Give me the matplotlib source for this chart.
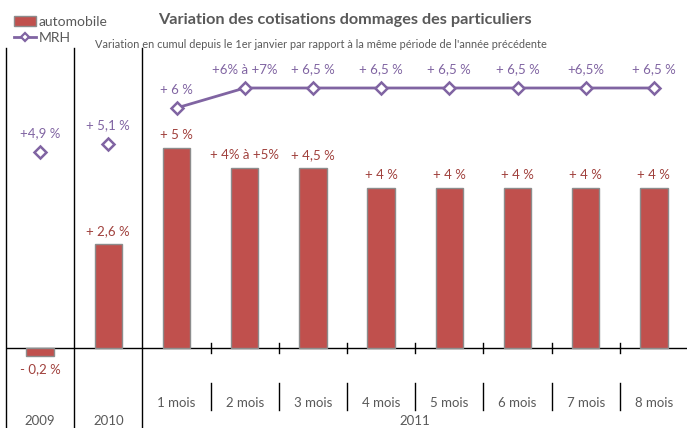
import numpy as np
import matplotlib.pyplot as plt
from matplotlib.patches import Patch
from matplotlib.lines import Line2D

plt.rcParams['font.family'] = ['Lato', 'DejaVu Sans']

# data
categories = ['', '', '1 mois', '2 mois', '3 mois', '4 mois', '5 mois', '6 mois', '7 mois', '8 mois']
years = ['2009', '2010', '2011']
auto = [-0.2, 2.6, 5, 4.5, 4.5, 4, 4, 4, 4, 4]
auto_labels = ['- 0,2 %', '+ 2,6 %', '+ 5 %', '+ 4% à +5%', '+ 4,5 %', '+ 4 %', '+ 4 %', '+ 4 %', '+ 4 %', '+ 4 %']
mrh = [4.9, 5.1, 6, 6.5, 6.5, 6.5, 6.5, 6.5, 6.5, 6.5]
mrh_labels = ['+4,9 %', '+ 5,1 %', '+ 6 %', '+6% à +7%', '+ 6,5 %', '+ 6,5 %', '+ 6,5 %', '+ 6,5 %', '+6,5%', '+ 6,5 %']

red = '#C0504D'
red_txt = '#A0403C'
purple = '#8064A2'
grey = '#595959'

fig = plt.figure(figsize=(6.87, 4.28), dpi=100)
ax = fig.add_axes([6 / 687, 50 / 428, 682 / 687, 330 / 428])
x = np.arange(len(auto))

ax.bar(x, auto, width=0.4, color=red, edgecolor='#8C8C8C', linewidth=1, zorder=3)
ax.plot(x[:1], mrh[:1], 'D', color=purple, mfc='white', mew=1.8, ms=6, zorder=4)
ax.plot(x[1:2], mrh[1:2], 'D', color=purple, mfc='white', mew=1.8, ms=6, zorder=4)
ax.plot(x[2:], mrh[2:], '-D', color=purple, mfc='white', mew=1.8, ms=6, lw=2, zorder=4)

for i in range(len(x)):
    if auto[i] >= 0:
        ax.annotate(auto_labels[i], (x[i], auto[i]), xytext=(0, 5), textcoords='offset points',
                    ha='center', va='bottom', color=red_txt, fontsize=9.5)
    else:
        ax.annotate(auto_labels[i], (x[i], auto[i]), xytext=(0, -5), textcoords='offset points',
                    ha='center', va='top', color=red_txt, fontsize=9.5)
    ax.annotate(mrh_labels[i], (x[i], mrh[i]), xytext=(0, 9), textcoords='offset points',
                ha='center', va='bottom', color=purple, fontsize=9.5)

ax.set_xlim(-0.5, 9.5)
ax.set_ylim(-0.75, 7.5)
ax.axis('off')

# zero axis, separators and ticks
ax.axhline(0, color='black', lw=1, zorder=2)
trans = ax.get_xaxis_transform()
for xs in [-0.5, 0.5, 1.5]:
    ax.plot([xs, xs], [-50 / 330 - 0.01, 1.0], color='black', lw=1, transform=trans, clip_on=False)
for xs in np.arange(2.5, 9.5, 1):
    ax.plot([xs, xs], [(30 - 5) / 330, (30 + 5) / 330], color='black', lw=1, transform=trans, clip_on=False)
    ax.plot([xs, xs], [(-32) / 330, (-5) / 330], color='black', lw=1, transform=trans, clip_on=False)

for i in range(2, len(x)):
    ax.text(x[i], -25 / 330, categories[i], transform=trans, ha='center', va='center',
            color=grey, fontsize=9.5)
ax.text(0, -43 / 330, years[0], transform=trans, ha='center', va='center', color=grey, fontsize=9.5)
ax.text(1, -43 / 330, years[1], transform=trans, ha='center', va='center', color=grey, fontsize=9.5)
ax.text(5.5, -43 / 330, years[2], transform=trans, ha='center', va='center', color=grey, fontsize=9.5)

fig.text(345 / 687, 1 - 20 / 428, 'Variation des cotisations dommages des particuliers',
         ha='center', va='center', fontsize=11.7, fontweight='bold', color=grey)
fig.text(321 / 687, 1 - 45 / 428,
         "Variation en cumul depuis le 1er janvier par rapport à la même période de l'année précédente",
         ha='center', va='center', fontsize=7.9, color=grey)

handles = [Patch(facecolor=red, edgecolor='#8C8C8C', label='automobile'),
           Line2D([], [], color=purple, marker='D', mfc='white', mew=1.6, ms=4.5, lw=2, label='MRH')]
fig.legend(handles=handles, loc='upper left', bbox_to_anchor=(7 / 687, 1 - 9 / 428), frameon=False,
           fontsize=10, handlelength=1.6, handletextpad=0.15, labelspacing=0.3,
           labelcolor=grey, borderpad=0, handleheight=0.7)

fig.savefig('out.png', dpi=100)
